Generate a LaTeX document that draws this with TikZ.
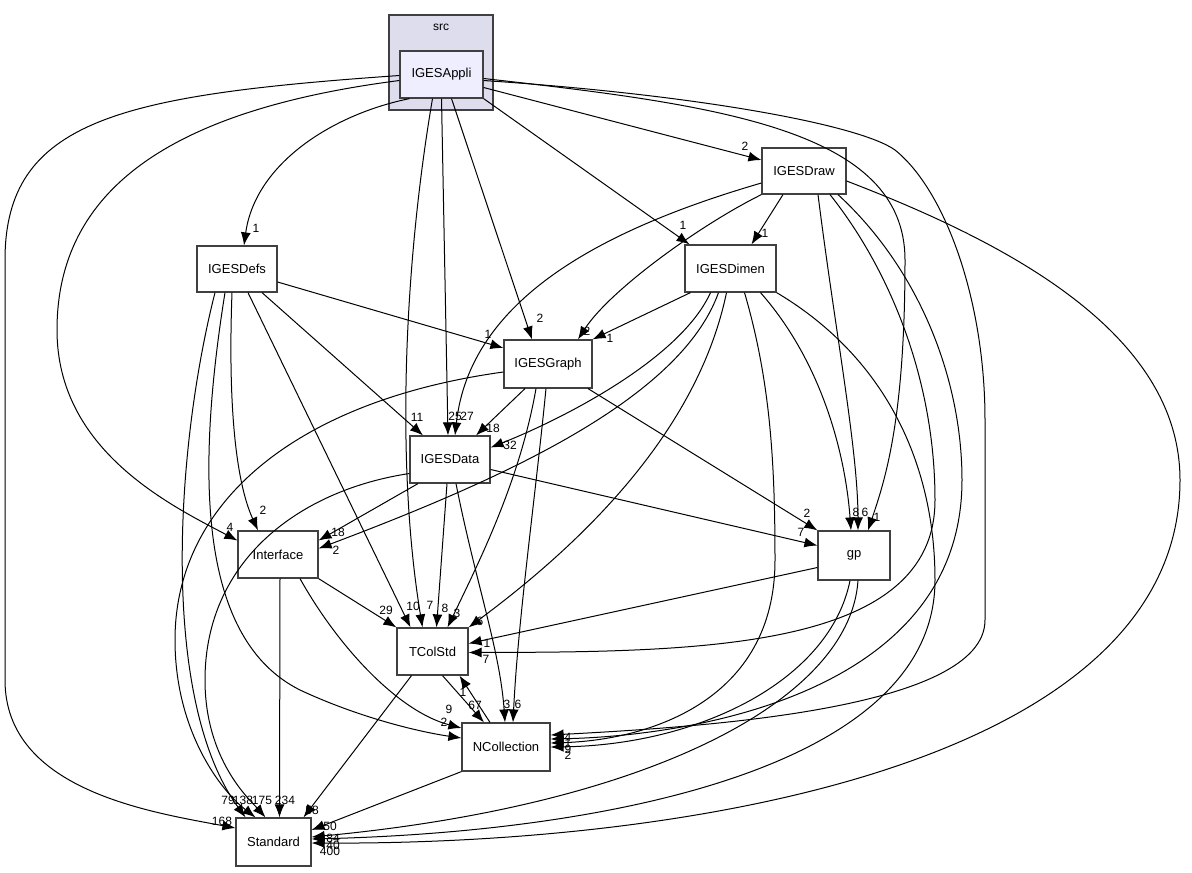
\documentclass[tikz,border=0pt]{standalone}
\usepackage{fontspec}
\setmainfont{Liberation Sans}
\usetikzlibrary{arrows.meta,calc}

\definecolor{clusterfill}{RGB}{221,221,238}
\definecolor{appfill}{RGB}{238,238,255}

\begin{document}
\begin{tikzpicture}[x=1pt,y=-1pt]
    \tikzstyle{every node}=[font=\fontsize{12}{14}\selectfont]
    \tikzstyle{dir}=[draw=black!75, line width=1.2pt, fill=white, inner sep=0pt,
                     minimum height=47pt, font=\fontsize{13}{15}\selectfont]
    \tikzstyle{dep}=[line width=1pt, -{Latex[length=13pt,width=10pt]}]
    \tikzstyle{lbl}=[inner sep=0pt]

    \useasboundingbox (0,0) rectangle (1192,873);

    % cluster src
    \node[draw=black!75, line width=1.2pt, fill=clusterfill, minimum width=104pt,
          minimum height=95pt, inner sep=0pt] (src) at (441,62.5) {};
    \node (srclbl) at (441,27) {src};

    % directories
    \node[dir, fill=appfill, minimum width=83pt] (Appli) at (441.5,74.5) {IGESAppli};
    \node[dir, minimum width=84pt, minimum height=46pt] (Draw) at (804,171) {IGESDraw};
    \node[dir, minimum width=80pt, minimum height=46pt] (Defs) at (237,269) {IGESDefs};
    \node[dir, minimum width=91pt] (Dimen) at (730.5,268.5) {IGESDimen};
    \node[dir, minimum width=88pt, minimum height=48pt] (Graph) at (548,364) {IGESGraph};
    \node[dir, minimum width=80pt] (Data) at (450,459.5) {IGESData};
    \node[dir, minimum width=80pt] (Interface) at (278,554.5) {Interface};
    \node[dir, minimum width=72pt, minimum height=49pt] (gp) at (854,555.5) {gp};
    \node[dir, minimum width=71pt] (TColStd) at (432.5,651.5) {TColStd};
    \node[dir, minimum width=88pt, minimum height=48pt] (NColl) at (506,747) {NCollection};
    \node[dir, minimum width=75pt, minimum height=48pt] (Standard) at (273.5,842) {Standard};

    % from IGESAppli
    \draw[dep] ([yshift=-1]Appli.west) .. controls (120,95) and (5,120) .. (5,260) -- (5,680)
        .. controls (5,790) and (150,812) .. ([yshift=14]Standard.west);
    \draw[dep] ([yshift=-6]Appli.west) .. controls (170,110) and (57,190) .. (57,330)
        .. controls (57,450) and (170,505) .. ([yshift=14]Interface.west);
    \draw[dep] ([xshift=-32]Appli.south) .. controls (330,115) and (255,165) .. ([xshift=7]Defs.north);
    \draw[dep] ([xshift=-9]Appli.south) .. controls (405,260) and (395,460) .. ([xshift=-10]TColStd.north);
    \draw[dep] (Appli.south) -- ([xshift=-2]Data.north);
    \draw[dep] ([xshift=10]Appli.south) -- ([xshift=-16]Graph.north);
    \draw[dep] (Appli.south east) -- ([xshift=-41]Dimen.north);
    \draw[dep] ([yshift=-13]Appli.east) -- ([yshift=11]Draw.west);
    \draw[dep] ([yshift=-4]Appli.east) .. controls (720,105) and (905,130) .. (905,260)
        .. controls (905,420) and (885,480) .. ([xshift=14]gp.north);
    \draw[dep] ([yshift=-6]Appli.east) .. controls (700,95) and (860,125) .. (895,150)
        .. controls (945,190) and (985,300) .. (985,420) -- (985,620)
        .. controls (985,710) and (700,727) .. ([yshift=12]NColl.east);

    % from IGESDraw
    \draw[dep] ([xshift=-21]Draw.south) -- ([xshift=21]Dimen.north);
    \draw[dep] (Draw.south west) .. controls (700,225) and (610,290) .. ([xshift=30]Graph.north);
    \draw[dep] ([yshift=-12]Draw.west) .. controls (600,230) and (470,300) .. ([xshift=5]Data.north);
    \draw[dep] ([xshift=14]Draw.south) .. controls (835,330) and (858,450) .. ([xshift=4]gp.north);
    \draw[dep] ([xshift=26]Draw.south) .. controls (890,270) and (935,380) .. (935,500)
        .. controls (935,650) and (700,652) .. ([yshift=-1]TColStd.east);
    \draw[dep] ([xshift=34]Draw.south) .. controls (920,270) and (962,380) .. (962,480)
        .. controls (962,690) and (700,736) .. ([yshift=8]NColl.east);
    \draw[dep] ([yshift=-10]Draw.east) .. controls (1000,240) and (1180,330) .. (1180,480)
        .. controls (1180,760) and (700,845) .. ([yshift=-1]Standard.east);

    % from IGESDefs
    \draw[dep] ([yshift=-13]Defs.east) -- ([yshift=16]Graph.west);
    \draw[dep] ([xshift=25]Defs.south) -- ([xshift=-27]Data.north);
    \draw[dep] ([xshift=11]Defs.south) -- ([xshift=-22]TColStd.north);
    \draw[dep] ([xshift=-5]Defs.south) .. controls (228,400) and (235,480) .. ([xshift=-20]Interface.north);
    \draw[dep] ([xshift=-12]Defs.south) .. controls (195,480) and (200,640) .. (300,690)
        .. controls (360,718) and (420,732) .. ([yshift=9]NColl.west);
    \draw[dep] ([xshift=-22]Defs.south) .. controls (175,450) and (160,700) .. ([xshift=-28]Standard.north);

    % from IGESDimen
    \draw[dep] ([xshift=-40]Dimen.south) -- (Graph.north east);
    \draw[dep] ([xshift=-20]Dimen.south) .. controls (680,360) and (560,420) .. ([yshift=12]Data.east);
    \draw[dep] ([xshift=-12]Dimen.south) .. controls (680,400) and (500,480) .. ([yshift=6]Interface.east);
    \draw[dep] ([xshift=-4]Dimen.south) .. controls (700,420) and (600,530) .. (TColStd.north east);
    \draw[dep] ([xshift=14]Dimen.south) .. controls (770,380) and (775,460) .. (775,560)
        .. controls (775,700) and (650,740) .. ([yshift=4]NColl.east);
    \draw[dep] ([xshift=30]Dimen.south) .. controls (820,360) and (845,450) .. ([xshift=-3]gp.north);
    \draw[dep] (Dimen.south east) .. controls (890,360) and (935,470) .. (935,580)
        .. controls (935,770) and (600,832) .. ([yshift=3]Standard.east);

    % from IGESGraph
    \draw[dep] ([xshift=-23]Graph.south) -- ([xshift=26]Data.north);
    \draw[dep] ([xshift=40]Graph.south) -- (gp.north west);
    \draw[dep] ([xshift=-12]Graph.south) .. controls (520,480) and (480,560) .. ([xshift=15]TColStd.north);
    \draw[dep] ([xshift=-2]Graph.south) .. controls (535,500) and (518,620) .. ([xshift=7]NColl.north);
    \draw[dep] ([yshift=-8]Graph.west) .. controls (300,400) and (175,500) .. (175,640)
        .. controls (175,730) and (220,790) .. ([xshift=-18]Standard.north);

    % from IGESData
    \draw[dep] ([xshift=-32]Data.south) -- ([yshift=14]Interface.east);
    \draw[dep] ([yshift=-10]Data.east) -- ([yshift=10]gp.west);
    \draw[dep] ([xshift=-3]Data.south) -- ([xshift=4]TColStd.north);
    \draw[dep] ([xshift=6]Data.south) .. controls (475,580) and (500,650) .. ([xshift=-1]NColl.north);
    \draw[dep] ([yshift=-14]Data.west) .. controls (300,490) and (205,560) .. (205,680)
        .. controls (205,760) and (250,800) .. ([xshift=-8]Standard.north);

    % from Interface
    \draw[dep] (Interface.south east) -- (TColStd.north west);
    \draw[dep] ([xshift=22]Interface.south) .. controls (340,650) and (400,712) .. ([yshift=19]NColl.west);
    \draw[dep] ([xshift=2]Interface.south) -- ([xshift=6]Standard.north);

    % from gp
    \draw[dep] ([yshift=-12]gp.west) -- ([yshift=8]TColStd.east);
    \draw[dep] ([xshift=-4]gp.south) .. controls (830,680) and (700,745) .. (NColl.east);
    \draw[dep] ([xshift=4]gp.south) .. controls (850,700) and (650,805) .. ([yshift=5]Standard.east);

    % TColStd and NCollection
    \draw[dep] ([xshift=10]TColStd.south) -- ([xshift=-22]NColl.north);
    \draw[dep] ([xshift=-16]NColl.north) -- ([xshift=27]TColStd.south);
    \draw[dep] ([xshift=-21]TColStd.south) -- ([xshift=30]Standard.north);
    \draw[dep] (NColl.south west) -- ([yshift=12]Standard.east);

    % edge counts
    \node[lbl] (lAppStd) at (222,821) {168};
    \node[lbl] (lAppIfc) at (230,527) {4};
    \node[lbl] (lAppDefs) at (256,228) {1};
    \node[lbl] (lAppTcs) at (430,605) {7};
    \node[lbl] (lAppData) at (455,416) {25};
    \node[lbl] (lAppGraph) at (540,318) {2};
    \node[lbl] (lAppDimen) at (683,225) {1};
    \node[lbl] (lAppDraw) at (745,146) {2};
    \node[lbl] (lAppGp) at (877,517) {1};
    \node[lbl] (lAppNcl) at (568,737) {4};
    \node[lbl] (lDrawDimen) at (765,233) {1};
    \node[lbl] (lDrawGraph) at (587,331) {2};
    \node[lbl] (lDrawData) at (467,416) {27};
    \node[lbl] (lDrawGp) at (865,512) {6};
    \node[lbl] (lDrawTcs) at (486,659) {7};
    \node[lbl] (lDrawNcl) at (568,743) {1};
    \node[lbl] (lDrawStd) at (330,851) {400};
    \node[lbl] (lDefsGraph) at (488,334) {1};
    \node[lbl] (lDefsData) at (417,417) {11};
    \node[lbl] (lDefsTcs) at (413,606) {10};
    \node[lbl] (lDefsIfc) at (263,510) {2};
    \node[lbl] (lDefsNcl) at (444,722) {2};
    \node[lbl] (lDefsStd) at (228,800) {79};
    \node[lbl] (lDimenGraph) at (610,338) {1};
    \node[lbl] (lDimenData) at (510,445) {32};
    \node[lbl] (lDimenIfc) at (336,550) {2};
    \node[lbl] (lDimenTcs) at (480,621) {6};
    \node[lbl] (lDimenNcl) at (568,749) {9};
    \node[lbl] (lDimenGp) at (856,512) {8};
    \node[lbl] (lDimenStd) at (333,845) {40};
    \node[lbl] (lGraphData) at (493,428) {18};
    \node[lbl] (lGraphGp) at (807,513) {2};
    \node[lbl] (lGraphTcs) at (457,613) {3};
    \node[lbl] (lGraphNcl) at (518,704) {6};
    \node[lbl] (lGraphStd) at (243,800) {138};
    \node[lbl] (lDataIfc) at (338,532) {18};
    \node[lbl] (lDataGp) at (801,532) {7};
    \node[lbl] (lDataTcs) at (445,608) {8};
    \node[lbl] (lDataNcl) at (507,704) {3};
    \node[lbl] (lDataStd) at (262,800) {175};
    \node[lbl] (lIfcTcs) at (386,610) {29};
    \node[lbl] (lIfcNcl) at (449,709) {9};
    \node[lbl] (lIfcStd) at (285,800) {234};
    \node[lbl] (lGpTcs) at (487,643) {1};
    \node[lbl] (lGpNcl) at (568,755) {2};
    \node[lbl] (lGpStd) at (333,838) {84};
    \node[lbl] (lTcsNcl) at (475,705) {67};
    \node[lbl] (lNclTcs) at (463,692) {1};
    \node[lbl] (lTcsStd) at (312,810) {58};
    \node[lbl] (lNclStd) at (330,826) {50};

\end{tikzpicture}
\end{document}
